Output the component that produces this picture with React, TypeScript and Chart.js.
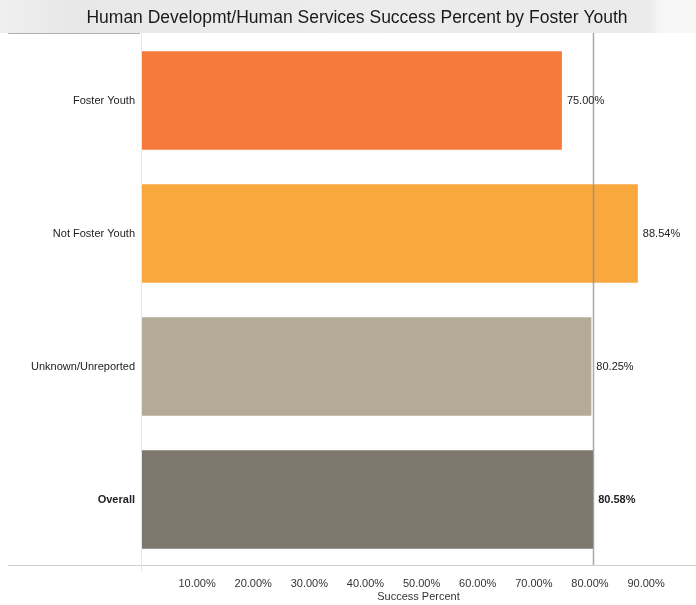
import React, { useEffect, useRef } from "react";
import { Chart, registerables } from "chart.js";

Chart.register(...registerables);

const TITLE = "Human Developmt/Human Services Success Percent by Foster Youth";
const categories = ["Foster Youth", "Not Foster Youth", "Unknown/Unreported", "Overall"];
const successPercent = [75.0, 88.54, 80.25, 80.58];
const barColors = ["#F57A3C", "#F9A83E", "#B4AA98", "#7E776E"];
const referenceValue = 80.58;
const xTickValues = [10, 20, 30, 40, 50, 60, 70, 80, 90];
const AXIS_TITLE = "Success Percent";
const FONT = "'Liberation Sans', Arial, Helvetica, sans-serif";

const decorPlugin = {
  id: "decor",
  beforeDraw(chart: any) {
    const { ctx, width } = chart;
    ctx.save();
    ctx.fillStyle = "#ffffff";
    ctx.fillRect(0, 0, width, chart.height);
    const g = ctx.createLinearGradient(0, 0, width, 0);
    g.addColorStop(0, "#efefef");
    g.addColorStop(0.1, "#e8e8e8");
    g.addColorStop(0.5, "#ececec");
    g.addColorStop(0.93, "#eaeaea");
    g.addColorStop(0.95, "#f6f6f6");
    g.addColorStop(1, "#f6f6f6");
    ctx.fillStyle = g;
    ctx.fillRect(0, 0, width, 33);
    ctx.strokeStyle = "#b0b0b0";
    ctx.lineWidth = 1;
    ctx.beginPath();
    ctx.moveTo(8, 33.5);
    ctx.lineTo(140, 33.5);
    ctx.stroke();
    ctx.fillStyle = "#1a1a1a";
    ctx.font = `17.5px ${FONT}`;
    ctx.textAlign = "center";
    ctx.textBaseline = "middle";
    ctx.fillText(TITLE, 357, 18);
    ctx.restore();
  },
  afterDatasetsDraw(chart: any) {
    const { ctx, chartArea, scales } = chart;
    const xs = scales.x;
    ctx.save();
    ctx.strokeStyle = "#d0d0d0";
    ctx.lineWidth = 1;
    ctx.beginPath();
    ctx.moveTo(8, 565.5);
    ctx.lineTo(chart.width, 565.5);
    ctx.stroke();
    const x0 = Math.round(xs.getPixelForValue(0)) + 0.5;
    ctx.strokeStyle = "#e6e6e6";
    ctx.beginPath();
    ctx.moveTo(x0, chartArea.top);
    ctx.lineTo(x0, 571);
    ctx.stroke();
    const rx = Math.round(xs.getPixelForValue(referenceValue)) + 0.5;
    ctx.strokeStyle = "rgba(140,140,140,0.75)";
    ctx.lineWidth = 1.5;
    ctx.beginPath();
    ctx.moveTo(rx, 33);
    ctx.lineTo(rx, 565);
    ctx.stroke();
    const meta = chart.getDatasetMeta(0);
    ctx.textAlign = "left";
    ctx.textBaseline = "middle";
    meta.data.forEach((bar: any, i: number) => {
      ctx.font = `${i === 3 ? "bold " : ""}11px ${FONT}`;
      ctx.fillStyle = "#222";
      ctx.fillText(successPercent[i].toFixed(2) + "%", bar.x + 5, bar.y);
    });
    ctx.restore();
  },
};

export default function App() {
  const ref = useRef<HTMLCanvasElement>(null);
  useEffect(() => {
    if (!ref.current) return;
    const chart = new Chart(ref.current, {
      type: "bar",
      data: {
        labels: categories,
        datasets: [
          {
            data: successPercent,
            backgroundColor: barColors,
            borderWidth: 0,
            barPercentage: 0.74,
            categoryPercentage: 1,
          },
        ],
      },
      plugins: [decorPlugin],
      options: {
        indexAxis: "y",
        animation: false,
        responsive: false,
        layout: { padding: { top: 34, left: 0, right: 0, bottom: 0 } },
        plugins: {
          legend: { display: false },
          title: { display: false },
          tooltip: { enabled: false },
        },
        scales: {
          x: {
            min: 0,
            max: 98.9,
            afterBuildTicks: (scale: any) => {
              scale.ticks = xTickValues.map((v) => ({ value: v }));
            },
            afterFit: (scale: any) => {
              scale.height = 39;
            },
            grid: { display: false, drawTicks: false },
            border: { display: false },
            ticks: {
              autoSkip: false,
              maxRotation: 0,
              padding: 11,
              color: "#333",
              font: { family: FONT, size: 11 },
              callback: (v: any) => Number(v).toFixed(2) + "%",
            },
            title: {
              display: true,
              text: AXIS_TITLE,
              color: "#333",
              font: { family: FONT, size: 11 },
              padding: { top: 0, bottom: 1 },
            },
          },
          y: {
            afterFit: (scale: any) => {
              scale.width = 141;
            },
            grid: { display: false, drawTicks: false },
            border: { display: false },
            ticks: {
              padding: 6,
              color: "#222",
              font: (c: any) => ({
                family: FONT,
                size: 11,
                weight: c.index === 3 ? "bold" : "normal",
              }),
            },
          },
        },
      },
    });
    return () => chart.destroy();
  }, []);
  return (
    <div style={{ position: "absolute", left: 0, top: 0, width: 696, height: 605 }}>
      <canvas ref={ref} width={696} height={605} style={{ width: 696, height: 605 }} />
    </div>
  );
}
